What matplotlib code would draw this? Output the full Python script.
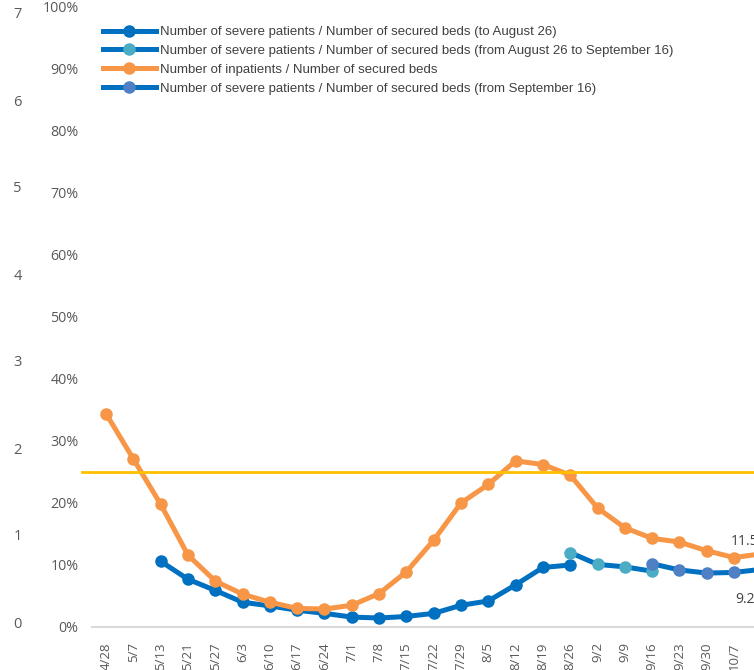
import matplotlib
matplotlib.use("Agg")
import matplotlib.pyplot as plt
from matplotlib.ticker import FuncFormatter

# weekly dates (last one is mostly cut off at the right edge)
dates = ['4/28', '5/7', '5/13', '5/21', '5/27', '6/3', '6/10', '6/17', '6/24', '7/1',
         '7/8', '7/15', '7/22', '7/29', '8/5', '8/12', '8/19', '8/26', '9/2', '9/9',
         '9/16', '9/23', '9/30', '10/7', '10/14']

# inpatients / secured beds (%)
inpatients = [34.4, 27.1, 19.8, 11.6, 7.4, 5.3, 4.0, 3.0, 2.9, 3.5,
              5.4, 8.9, 14.0, 20.0, 23.0, 26.8, 26.2, 24.5, 19.2, 16.0,
              14.3, 13.7, 12.3, 11.2, 11.8]

# severe patients / secured beds (%), three periods
severe_dates_1 = dates[2:18]
severe_1 = [10.6, 7.7, 5.9, 4.0, 3.4, 2.7, 2.2, 1.6, 1.45, 1.7, 2.2, 3.5, 4.2, 6.8, 9.6, 10.0]
severe_dates_2 = ['8/26', '9/2', '9/9', '9/16']
severe_2 = [12.0, 10.1, 9.7, 9.0]
severe_dates_3 = ['9/16', '9/23', '9/30', '10/7', '10/14']
severe_3 = [10.2, 9.2, 8.7, 8.8, 9.3]

threshold = 25.0
end_labels = ['11.5%', '9.2%']
left_ticks = [0, 1, 2, 3, 4, 5, 6, 7]

labels = ['Number of severe patients / Number of secured beds (to August 26)',
          'Number of severe patients / Number of secured beds (from August 26 to September 16)',
          'Number of inpatients / Number of secured beds',
          'Number of severe patients / Number of secured beds (from September 16)']

W, H = 754, 670
fig = plt.figure(figsize=(W / 100, H / 100), dpi=100)

# main axes, runs off the right edge like the cropped original
x0, x1 = 92.4, 775.0
y0, y1 = 627.0, 7.0
ax = fig.add_axes([x0 / W, 1 - y0 / H, (x1 - x0) / W, (y0 - y1) / H])

def xs(sub):
    return [dates.index(d) for d in sub]

blue = '#0070C0'
lw = 3.6
ms = 8
l1, = ax.plot(xs(severe_dates_1), severe_1, color=blue, lw=lw, marker='o', ms=ms,
              mfc=blue, mec=blue, zorder=3, label=labels[0])
l2, = ax.plot(xs(severe_dates_2), severe_2, color=blue, lw=lw, marker='o', ms=ms,
              mfc='#4BACC6', mec='#4BACC6', zorder=4, label=labels[1])
l3, = ax.plot(range(len(dates)), inpatients, color='#F79646', lw=lw, marker='o', ms=ms,
              zorder=5, label=labels[2])
l4, = ax.plot(xs(severe_dates_3), severe_3, color=blue, lw=lw, marker='o', ms=ms,
              mfc='#4F7FC4', mec='#4F7FC4', zorder=6, label=labels[3])
ax.axhline(threshold, xmin=-0.015, color='#FFC000', lw=2, zorder=7, clip_on=False)

ax.annotate(end_labels[0], (len(dates) - 1, inpatients[-1]), xytext=(-22, 9),
            textcoords='offset points', ha='left', va='center',
            fontsize=10, color='#404040', family='Open Sans')
ax.annotate(end_labels[1], (len(dates) - 1, severe_3[-1]), xytext=(-19, -22),
            textcoords='offset points', ha='left', va='center',
            fontsize=10, color='#404040', family='Open Sans')

ax.set_xlim(-0.5, len(dates) - 0.5)
ax.set_ylim(0, 100)
ax.set_yticks(range(0, 101, 10))
ax.yaxis.set_major_formatter(FuncFormatter(lambda v, p: '{:.0f}%'.format(v)))
ax.set_xticks(range(len(dates)))
ax.set_xticklabels(dates, rotation=90)
for s in ['top', 'right', 'left']:
    ax.spines[s].set_visible(False)
ax.spines['bottom'].set_color('#D9D9D9')
ax.spines['bottom'].set_linewidth(1.5)
ax.tick_params(axis='both', length=0, colors='#595959')
ax.tick_params(axis='y', pad=10, labelsize=10.3)
ax.tick_params(axis='x', pad=11, labelsize=9.5)
for t in ax.get_xticklabels() + ax.get_yticklabels():
    t.set_family('Open Sans')

# leftover axis of the neighbouring chart on the far left
axl = fig.add_axes([22 / W, 1 - 622 / H, 0.001, (622 - 13) / H])
axl.set_ylim(0, 7)
axl.set_yticks(left_ticks)
axl.set_xticks([])
for s in axl.spines.values():
    s.set_visible(False)
axl.tick_params(axis='y', length=0, pad=0, colors='#595959', labelsize=10.5)
for t in axl.get_yticklabels():
    t.set_family('Open Sans')
axl.patch.set_visible(False)

fig.legend(handles=[l1, l2, l3, l4], loc='upper left',
           bbox_to_anchor=(103 / W, 1 - 26 / H), frameon=False,
           prop={'family': 'Liberation Sans', 'size': 9.5}, handlelength=4.0,
           handletextpad=0.3, labelspacing=0.5, borderpad=0, borderaxespad=0,
           numpoints=1, labelcolor='#404040')

fig.savefig('out.png', dpi=100)
